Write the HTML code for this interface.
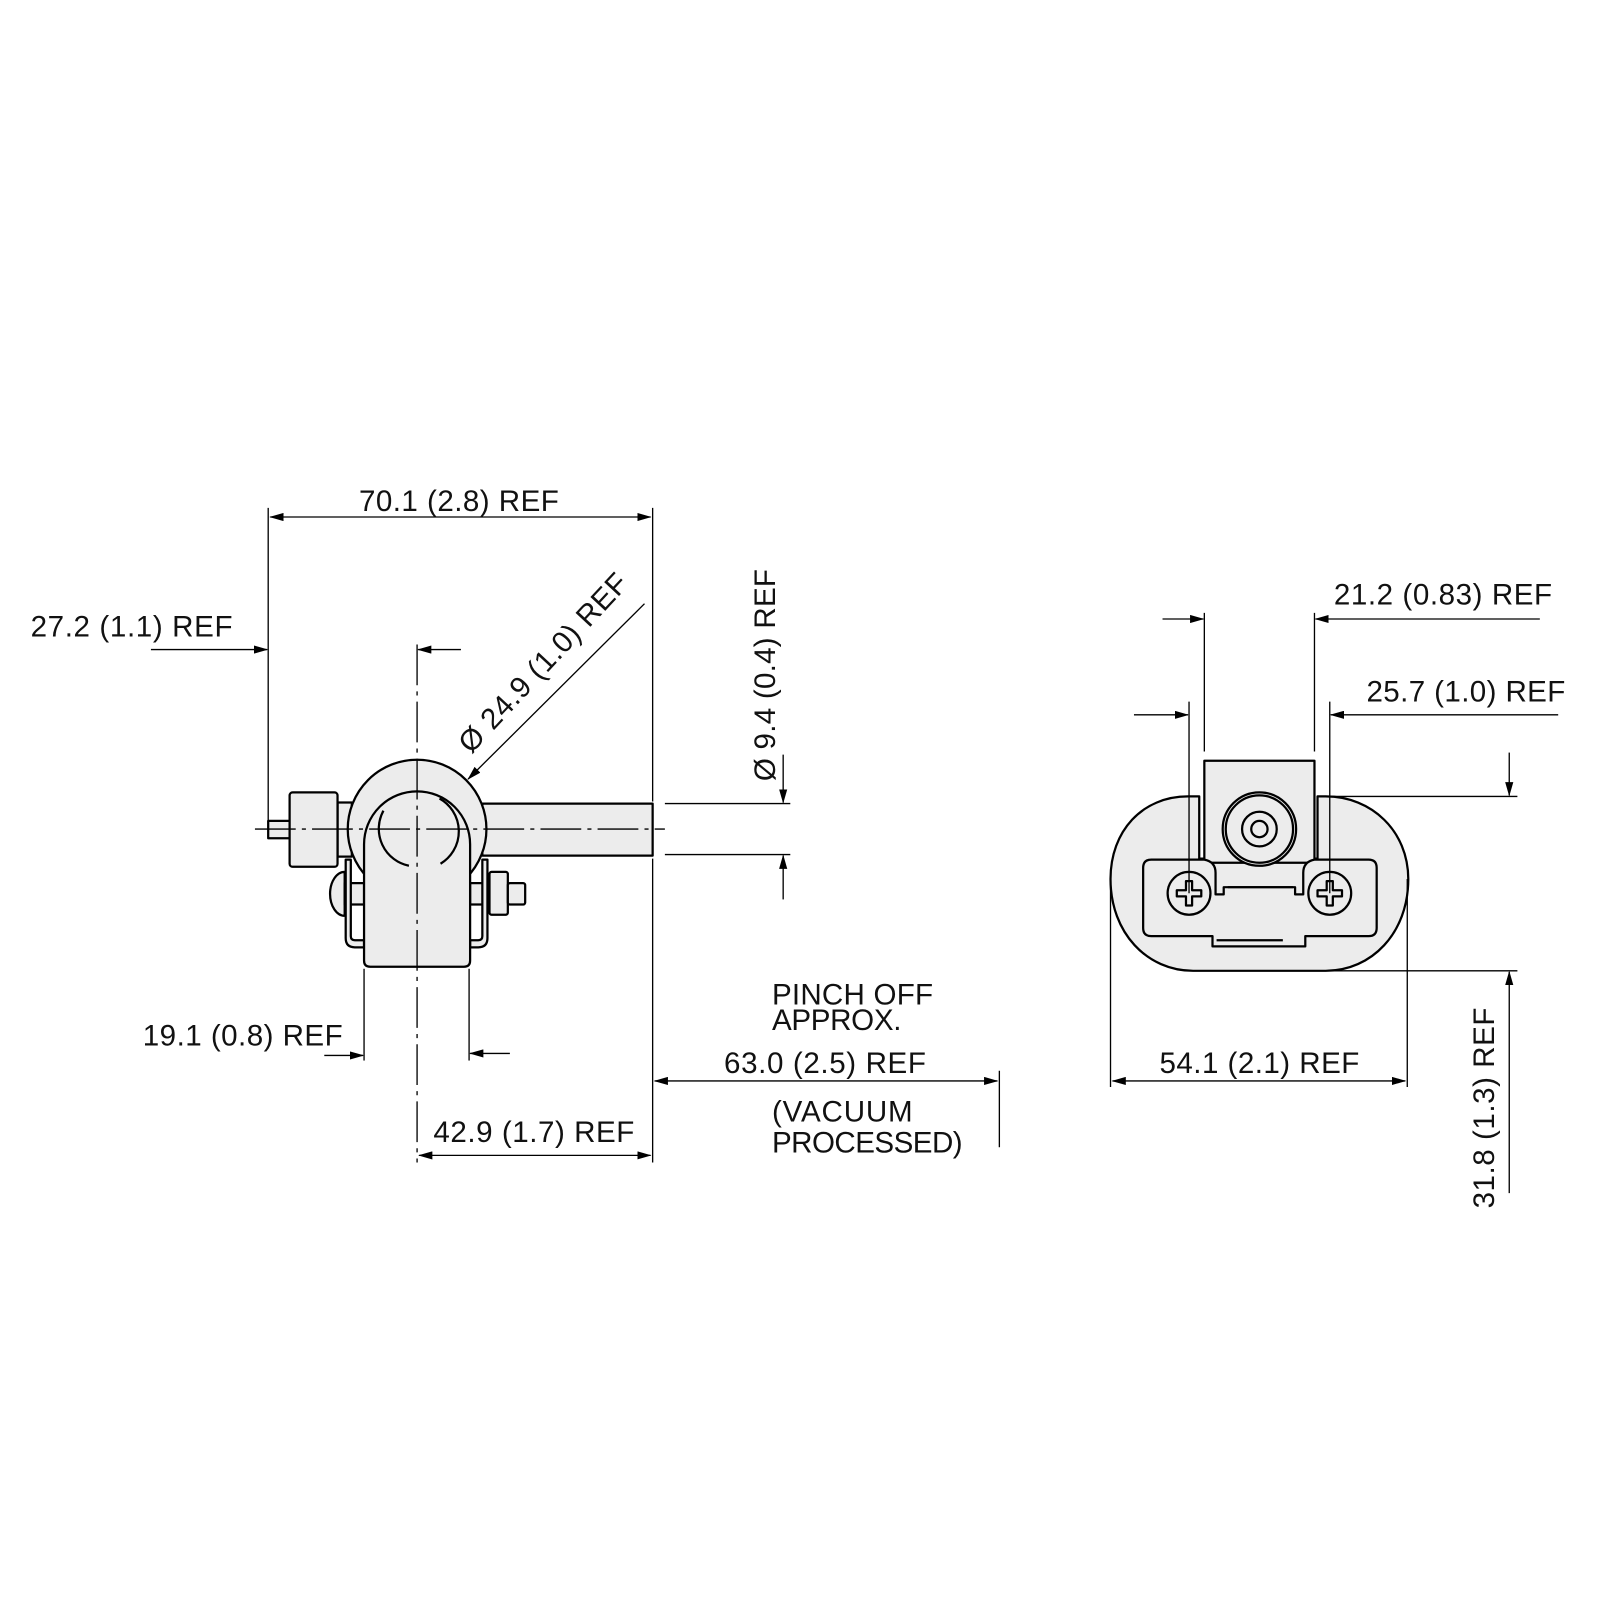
<!DOCTYPE html>
<html><head><meta charset="utf-8"><style>
html,body{margin:0;padding:0;background:#fff;}
svg{display:block}
text{font-family:"Liberation Sans",sans-serif;font-size:29px;fill:#111;}
</style></head><body>
<svg width="1600" height="1600" viewBox="0 0 1569 1569" xmlns="http://www.w3.org/2000/svg">
<defs>
<marker id="a" markerWidth="14" markerHeight="8" refX="13" refY="4" orient="auto" markerUnits="userSpaceOnUse">
<path d="M0,0 L14,4 L0,8 Z" fill="#000"/></marker>
<marker id="b" markerWidth="14" markerHeight="8" refX="1" refY="4" orient="auto" markerUnits="userSpaceOnUse">
<path d="M14,0 L0,4 L14,8 Z" fill="#000"/></marker>
</defs>
<rect width="1569" height="1569" fill="#fff"/>

<!-- LEFT VIEW -->
<g stroke="#000" stroke-width="2.2" fill="#ececec" stroke-linejoin="round">
 <rect x="473" y="788" width="167" height="51"/>
 <rect x="263" y="805" width="21" height="17"/>
 <rect x="331" y="787" width="14" height="53"/>
 <rect x="284" y="777" width="47" height="73" rx="3"/>
 <!-- bolts -->
 <path d="M338,855 A14,21 0 0 0 338,898 Z"/>
 <rect x="338" y="866" width="19" height="21"/>
 <rect x="461" y="866" width="19" height="21"/>
 <rect x="480" y="855" width="18" height="42" rx="2"/>
 <rect x="498" y="866" width="17" height="21" rx="2"/>
 <circle cx="409" cy="813" r="68"/>
 <!-- brackets -->
 <path d="M339,843 L344,843 L344,918 Q344,922 348,922 L357,922 L357,929 L348,929 Q339,929 339,920 Z"/>
 <path d="M478,843 L473,843 L473,918 Q473,922 469,922 L461,922 L461,929 L469,929 Q478,929 478,920 Z"/>
 <path d="M357,828 A52,52 0 0 1 461,828 L461,942 Q461,948 455,948 L363,948 Q357,948 357,942 Z"/>
</g>
<g stroke="#000" stroke-width="2.2" fill="none">
 <path d="M376,795 A37,37 0 0 0 401,849"/>
 <path d="M431,783 A37,37 0 0 1 432,847"/>
</g>
<!-- centerlines -->
<g stroke="#000" stroke-width="1.3" fill="none" stroke-dasharray="40,6,4,6">
 <line x1="250" y1="813" x2="652" y2="813"/>
 <line x1="409" y1="632" x2="409" y2="1140"/>
</g>
<!-- dims left -->
<g stroke="#000" stroke-width="1.3" fill="none">
 <line x1="263" y1="498" x2="263" y2="812"/>
 <line x1="640" y1="498" x2="640" y2="786"/>
 <line x1="640" y1="842" x2="640" y2="1140"/>
 <line x1="265" y1="507" x2="638" y2="507" marker-start="url(#b)" marker-end="url(#a)"/>
 <line x1="148" y1="637" x2="262" y2="637" marker-end="url(#a)"/>
 <line x1="452" y1="637" x2="410" y2="637" marker-end="url(#a)"/>
 <line x1="632" y1="592" x2="459" y2="764" marker-end="url(#a)"/>
 <line x1="652" y1="788" x2="775" y2="788"/>
 <line x1="652" y1="838" x2="775" y2="838"/>
 <line x1="768" y1="740" x2="768" y2="787" marker-end="url(#a)"/>
 <line x1="768" y1="882" x2="768" y2="839" marker-end="url(#a)"/>
 <line x1="357" y1="950" x2="357" y2="1040"/>
 <line x1="460" y1="950" x2="460" y2="1040"/>
 <line x1="318" y1="1035" x2="356" y2="1035" marker-end="url(#a)"/>
 <line x1="500" y1="1033" x2="461" y2="1033" marker-end="url(#a)"/>
 <line x1="642" y1="1060" x2="978" y2="1060" marker-start="url(#b)" marker-end="url(#a)"/>
 <line x1="980" y1="1050" x2="980" y2="1125"/>
 <line x1="411" y1="1133" x2="638" y2="1133" marker-start="url(#b)" marker-end="url(#a)"/>
</g>
<text x="352" y="501" textLength="196">70.1 (2.8) REF</text>
<text x="30" y="624" textLength="198">27.2 (1.1) REF</text>
<text transform="translate(462,740) rotate(-47)" textLength="228">Ø 24.9 (1.0) REF</text>
<text transform="translate(760,766) rotate(-90)" textLength="208">Ø 9.4 (0.4) REF</text>
<text x="140" y="1025" textLength="196">19.1 (0.8) REF</text>
<text x="757" y="985" textLength="158">PINCH OFF</text>
<text x="757" y="1010" textLength="127">APPROX.</text>
<text x="710" y="1052" textLength="198">63.0 (2.5) REF</text>
<text x="757" y="1100" textLength="138">(VACUUM</text>
<text x="757" y="1130" textLength="187">PROCESSED)</text>
<text x="425" y="1120" textLength="197">42.9 (1.7) REF</text>

<!-- RIGHT VIEW -->
<g stroke="#000" stroke-width="2.2" fill="#ececec" stroke-linejoin="round">
 <path d="M1176,781 L1165,781 C1120,781 1089,815 1089,862 C1089,915 1125,952 1170,952 L1300,952 C1345,952 1381,915 1381,862 C1381,815 1345,781 1300,781 L1292,781 L1292,842 L1176,842 Z"/>
 <rect x="1181" y="746" width="108" height="100"/>
 <path d="M1129,843 L1181,843 Q1192,845 1192,856 L1192,877 L1200,877 L1200,870 L1270,870 L1270,877 L1278,877 L1278,856 Q1278,845 1289,843 L1342,843 Q1350,843 1350,851 L1350,910 Q1350,918 1342,918 L1280,918 L1280,928 L1189,928 L1189,918 L1129,918 Q1121,918 1121,910 L1121,851 Q1121,843 1129,843 Z"/>
 <line x1="1204" y1="870" x2="1268" y2="870" fill="none"/>
 <line x1="1193" y1="922" x2="1258" y2="922" fill="none"/>
 <circle cx="1235" cy="813" r="36"/>
 <circle cx="1235" cy="813" r="33" fill="none"/>
 <circle cx="1235" cy="813" r="17"/>
 <circle cx="1235" cy="813" r="8"/>
 <circle cx="1166" cy="876" r="21"/>
 <circle cx="1304" cy="876" r="21"/>
 <path d="M1163,864 h6 v9 h9 v6 h-9 v9 h-6 v-9 h-9 v-6 h9 Z"/>
 <path d="M1301,864 h6 v9 h9 v6 h-9 v9 h-6 v-9 h-9 v-6 h9 Z"/>
</g>
<g stroke="#000" stroke-width="1.3" fill="none">
 <line x1="1181" y1="601" x2="1181" y2="737"/>
 <line x1="1289" y1="601" x2="1289" y2="737"/>
 <line x1="1140" y1="607" x2="1180" y2="607" marker-end="url(#a)"/>
 <line x1="1510" y1="607" x2="1290" y2="607" marker-end="url(#a)"/>
 <line x1="1166" y1="688" x2="1166" y2="876"/>
 <line x1="1304" y1="688" x2="1304" y2="876"/>
 <line x1="1112" y1="701" x2="1165" y2="701" marker-end="url(#a)"/>
 <line x1="1528" y1="701" x2="1305" y2="701" marker-end="url(#a)"/>
 <line x1="1300" y1="781" x2="1488" y2="781"/>
 <line x1="1300" y1="952" x2="1488" y2="952"/>
 <line x1="1480" y1="738" x2="1480" y2="780" marker-end="url(#a)"/>
 <line x1="1480" y1="1170" x2="1480" y2="953" marker-end="url(#a)"/>
 <line x1="1089" y1="862" x2="1089" y2="1066"/>
 <line x1="1380" y1="862" x2="1380" y2="1066"/>
 <line x1="1091" y1="1060" x2="1378" y2="1060" marker-start="url(#b)" marker-end="url(#a)"/>
</g>
<text x="1308" y="593" textLength="214">21.2 (0.83) REF</text>
<text x="1340" y="688" textLength="195">25.7 (1.0) REF</text>
<text x="1137" y="1052" textLength="196">54.1 (2.1) REF</text>
<text transform="translate(1465,1185) rotate(-90)" textLength="197">31.8 (1.3) REF</text>
</svg>
</body></html>
